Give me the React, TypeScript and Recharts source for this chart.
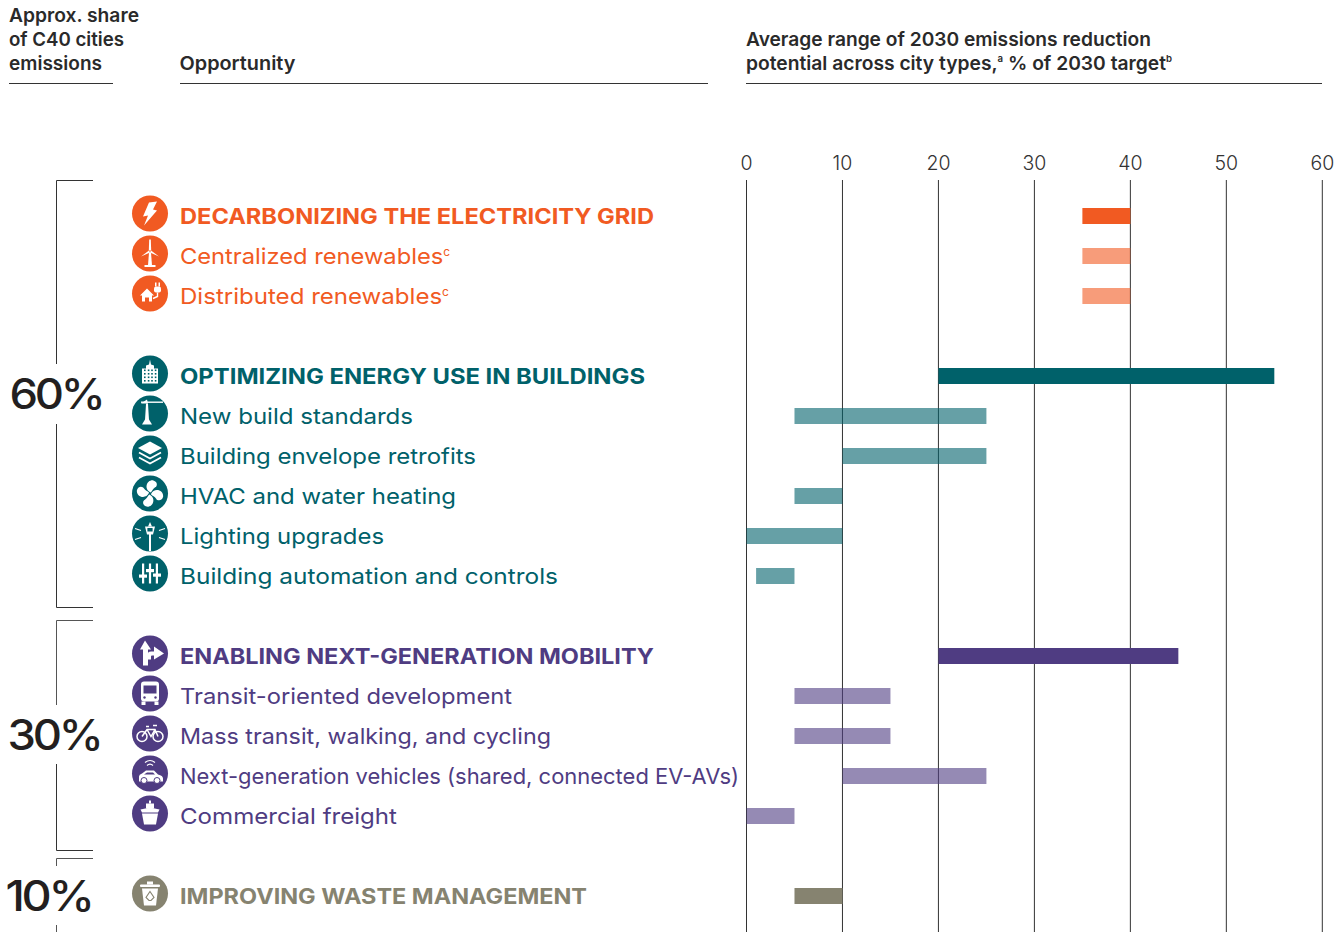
import React from 'react'
import { BarChart, Bar, Cell, CartesianGrid, XAxis, YAxis } from 'recharts'

// rows of the chart, top to bottom, "gap-*" rows are empty spacers
const rowLabels = [
  'DECARBONIZING THE ELECTRICITY GRID',
  'Centralized renewables',
  'Distributed renewables',
  'gap-1',
  'OPTIMIZING ENERGY USE IN BUILDINGS',
  'New build standards',
  'Building envelope retrofits',
  'HVAC and water heating',
  'Lighting upgrades',
  'Building automation and controls',
  'gap-2',
  'ENABLING NEXT-GENERATION MOBILITY',
  'Transit-oriented development',
  'Mass transit, walking, and cycling',
  'Next-generation vehicles (shared, connected EV-AVs)',
  'Commercial freight',
  'gap-3',
  'IMPROVING WASTE MANAGEMENT',
]
const lowValues = [35, 35, 35, null, 20, 5, 10, 5, 0, 1, null, 20, 5, 5, 10, 0, null, 5]
const highValues = [40, 40, 40, null, 55, 25, 25, 10, 10, 5, null, 45, 15, 15, 25, 5, null, 10]
const rowGroups = ['grid', 'grid', 'grid', '', 'bld', 'bld', 'bld', 'bld', 'bld', 'bld', '', 'mob', 'mob', 'mob', 'mob', 'mob', '', 'waste']
const headerRows = [0, 4, 11, 17]
const superscripts: Record<string, string> = {
  'Centralized renewables': 'c',
  'Distributed renewables': 'c',
}
const xTicks = [0, 10, 20, 30, 40, 50, 60]

const groupColors: Record<string, string> = {
  grid: '#f15a22',
  bld: '#00616a',
  mob: '#4f3c82',
  waste: '#868370',
}

// label widths as measured on the page, the source font is wider than the ones here
const labelWidths: Record<string, number> = {
  'DECARBONIZING THE ELECTRICITY GRID': 474,
  'Centralized renewables': 270,
  'Distributed renewables': 269,
  'OPTIMIZING ENERGY USE IN BUILDINGS': 465,
  'New build standards': 233,
  'Building envelope retrofits': 296,
  'HVAC and water heating': 276,
  'Lighting upgrades': 204,
  'Building automation and controls': 378,
  'ENABLING NEXT-GENERATION MOBILITY': 474,
  'Transit-oriented development': 332,
  'Mass transit, walking, and cycling': 371,
  'Next-generation vehicles (shared, connected EV-AVs)': 559,
  'Commercial freight': 217,
  'IMPROVING WASTE MANAGEMENT': 407,
}

const FONT = 'Inter, "Open Sans", sans-serif'
const INK = '#2a2a2a'

const tableData = rowLabels.map((label, i) => ({
  label,
  range: lowValues[i] === null ? null : [lowValues[i], highValues[i]],
  group: rowGroups[i],
  header: headerRows.includes(i),
}))

// white glyphs, drawn around 0,0 inside an 18px radius circle
const glyph = (fill: string): Record<string, React.ReactNode> => ({
  'DECARBONIZING THE ELECTRICITY GRID': <path d="M-1,-11 L7,-12 L3,-4 L7,-3 L-6,12 L-2,2 L-7,3 Z" fill="#fff" />,
  'Centralized renewables': (
    <g fill="#fff">
      <path d="M-0.8,-14 L0.8,-14 L1.2,-3 L-1.2,-3 Z" />
      <path d="M-9,3 L-1,-3 L0,-1 Z" />
      <path d="M9,3 L1,-3 L0,-1 Z" />
      <path d="M-1,-1 L1,-1 L2,12 L-2,12 Z" />
      <rect x={-5.5} y={11.5} width={11} height={2} />
    </g>
  ),
  'Distributed renewables': (
    <g fill="#fff">
      <path d="M-10,2 L-3,-5 L4,2 L2,2 L2,8 L-1,8 L-1,4 L-5,4 L-5,8 L-8,8 L-8,2 Z" />
      <rect x={4} y={-7} width={7} height={6} rx={2} />
      <rect x={5} y={-11} width={1.5} height={4} />
      <rect x={8.5} y={-11} width={1.5} height={4} />
      <path d="M7.5,-1 L7.5,3 L3,5" stroke="#fff" strokeWidth={1.4} fill="none" />
    </g>
  ),
  'OPTIMIZING ENERGY USE IN BUILDINGS': (
    <g>
      <path d="M-8,10 L-8,-5 L-4,-5 L-4,-8 L-1,-9 L0,-14 L1,-9 L4,-8 L4,-5 L8,-5 L8,10 Z" fill="#fff" />
      {[-4, -0.5, 3, 6.5].map((y) =>
        [-6, -2.2, 1.2, 4.8].map((x) => <rect key={`${x}${y}`} x={x} y={y} width={1.6} height={1.6} fill={fill} />),
      )}
    </g>
  ),
  'New build standards': (
    <g fill="#fff">
      <rect x={-9} y={-12} width={22} height={1.4} />
      <path d="M-9,-10 L-3,-14 L-2,-10 Z" />
      <path d="M-4,-10 L-2,-10 L-1,7 L-5,7 Z" />
      <path d="M-8,11 L-5,6 L-1,6 L2,11 Z" />
    </g>
  ),
  'Building envelope retrofits': (
    <g>
      <path d="M0,-12 L12,-5.5 L0,1 L-12,-5.5 Z" fill="#fff" />
      <path d="M-11,-1 L0,5 L11,-1" fill="none" stroke="#fff" strokeWidth={1.8} />
      <path d="M-11,4 L0,10 L11,4" fill="none" stroke="#fff" strokeWidth={1.8} />
    </g>
  ),
  'HVAC and water heating': (
    <g fill="#fff">
      {[10, 100, 190, 280].map((a) => (
        <path key={a} transform={`rotate(${a})`} d="M0.5,-1 C-7,-3 -6,-13 1,-13.5 C6,-13 6,-8 4,-7 C2,-5 2,-3 0.5,-1 Z" />
      ))}
    </g>
  ),
  'Lighting upgrades': (
    <g>
      <rect x={-1} y={0} width={2} height={17.5} fill="#fff" />
      <path d="M-5,-7 L5,-7 L4,-3 L3,1 L-3,1 L-4,-3 Z" fill="#fff" />
      <rect x={-2.6} y={-5.5} width={5.2} height={3.5} fill={fill} />
      <path d="M-2,-7 L0,-11.5 L2,-7 Z" fill="#fff" />
      <path d="M-15,-5 L-9,-3 M-15,6 L-9,4 M15,-5 L9,-3 M15,6 L9,4" stroke="#fff" strokeWidth={1.2} />
    </g>
  ),
  'Building automation and controls': (
    <g fill="#fff">
      <rect x={-8} y={-10} width={2.2} height={20} />
      <rect x={-1.1} y={-10} width={2.2} height={20} />
      <rect x={5.8} y={-10} width={2.2} height={20} />
      <rect x={-11} y={1} width={8} height={3.2} />
      <rect x={-4} y={-4.5} width={8} height={3.2} />
      <rect x={3} y={0} width={8} height={3.2} />
    </g>
  ),
  'ENABLING NEXT-GENERATION MOBILITY': (
    <g fill="#fff">
      <path d="M-5,-13 L-10,-4 L-7,-4 L-7,12 L-2,12 L-2,-4 L1,-4 Z" />
      <path d="M-2,6 L-2,0 Q-2,-2 1,-2 L4,-2 L4,-7 L14,0 L4,6 L4,2 L2,2 Q1,2 1,3 L1,6 Z" />
    </g>
  ),
  'Transit-oriented development': (
    <g>
      <rect x={-9} y={-12} width={18} height={20} rx={3} fill="#fff" />
      <rect x={-6.5} y={-8} width={13} height={8} fill={fill} />
      <rect x={-8.5} y={8} width={4} height={3.5} fill="#fff" />
      <rect x={4.5} y={8} width={4} height={3.5} fill="#fff" />
      <circle cx={-5.5} cy={4} r={1.2} fill={fill} />
      <circle cx={5.5} cy={4} r={1.2} fill={fill} />
    </g>
  ),
  'Mass transit, walking, and cycling': (
    <g fill="none" stroke="#fff" strokeWidth={1.5}>
      <circle cx={-8} cy={3} r={5} />
      <circle cx={8} cy={3} r={5} />
      <path d="M-8,3 L-3,-4 L5,-4 L8,3 M-3,-4 L1,3 L5,-4 M-4,-7 L-1,-7 M3,-8 L7,-8" />
    </g>
  ),
  'Next-generation vehicles (shared, connected EV-AVs)': (
    <g>
      <path d="M-11,8 L-11,3 Q-11,1 -8,0 L-4,-3 L4,-3 L8,1 Q13,2 13,5 L13,8 Z" fill="#fff" />
      <path d="M-3,-1 L3,-1 L5,1 L-6,1 Z" fill={fill} />
      <circle cx={-6} cy={7} r={3} fill="#fff" stroke={fill} />
      <circle cx={7} cy={7} r={3} fill="#fff" stroke={fill} />
      <path d="M-5,-11 Q0,-15 5,-11 M-3,-8 Q0,-11 3,-8" fill="none" stroke="#fff" strokeWidth={1.2} />
    </g>
  ),
  'Commercial freight': (
    <g fill="#fff">
      <rect x={-1} y={-13} width={2} height={3} />
      <path d="M-4,-10 L4,-10 L4,-5 L-4,-5 Z" />
      <path d="M-9.5,-4 L0,-6 L9.5,-4 L8,-1 L-8,-1 Z" />
      <path d="M-8,0 L8,0 L6,11 L-6,11 Z" />
    </g>
  ),
  'IMPROVING WASTE MANAGEMENT': (
    <g>
      <rect x={-10} y={-9} width={20} height={2.5} rx={1} fill="#fff" />
      <rect x={-3} y={-12} width={6} height={3} fill="#fff" />
      <path d="M-8,-5 L8,-5 L6,12 L-6,12 Z" fill="#fff" />
      <path d="M0,-2 L4,4 L1,7 L-1,7 L-4,4 Z" fill="none" stroke={fill} strokeWidth={1.1} />
    </g>
  ),
})

const RowTick = (props: any) => {
  const label: string = props.payload?.value
  const row = tableData.find((r) => r.label === label)
  if (!row || !row.group) return null
  const color = groupColors[row.group]
  return (
    <g>
      <g transform={`translate(150,${props.y - 2.5})`}>
        <circle r={18} fill={color} />
        {glyph(color)[label]}
      </g>
      <text
        x={180}
        y={props.y + 8}
        fontFamily={FONT}
        fontSize={row.header ? 21.5 : 22}
        fontWeight={row.header ? 700 : 400}
        fill={color}
        textLength={labelWidths[label]}
        lengthAdjust="spacingAndGlyphs"
      >
        {label}
        {superscripts[label] ? (
          <tspan fontSize={11} dy={-8}>
            {superscripts[label]}
          </tspan>
        ) : null}
      </text>
    </g>
  )
}

const Frame = () => {
  const head = { fontFamily: FONT, fontSize: 19, fontWeight: 600, fill: INK, lengthAdjust: 'spacingAndGlyphs' }
  const pct = { fontFamily: FONT, fontSize: 42, fontWeight: 500, letterSpacing: -3, fill: '#231f20', lengthAdjust: 'spacingAndGlyphs' }
  return (
    <svg width={1341} height={932} style={{ position: 'absolute', left: 0, top: 0 }}>
      <text {...head} x={9} y={22} textLength={130}>Approx. share</text>
      <text {...head} x={9} y={46} textLength={115}>of C40 cities</text>
      <text {...head} x={9} y={70} textLength={93}>emissions</text>
      <text {...head} x={179.5} y={70} textLength={116}>Opportunity</text>
      <text {...head} x={746} y={46} textLength={405}>Average range of 2030 emissions reduction</text>
      <text {...head} x={746} y={70} textLength={426}>
        potential across city types,<tspan fontSize={9.5} dy={-8}>a</tspan>
        <tspan dy={8}> % of 2030 target</tspan>
        <tspan fontSize={9.5} dy={-8}>b</tspan>
      </text>
      <g stroke="#333" strokeWidth={1} fill="none">
        <path d="M9,83.5 H113 M180,83.5 H708 M746,83.5 H1322" />
        <path d="M93,180.5 H56.5 V364 M56.5,424 V607.5 H93" />
        <path d="M56.5,705 V620.5 H93" stroke="#555" />
        <path d="M56.5,764 V850.5 H93" />
        <path d="M93,858.5 H56.5 V866 M56.5,925 V932" stroke="#555" />
      </g>
      <text {...pct} x={9.5} y={408.5} textLength={93}>60%</text>
      <text {...pct} x={7.5} y={749.5} textLength={93}>30%</text>
      <text {...pct} x={5.5} y={911} textLength={86}>10%</text>
    </svg>
  )
}

export default function App() {
  return (
    <div style={{ position: 'absolute', left: 0, top: 0, width: 1341, height: 932, overflow: 'hidden', background: '#fff' }}>
      <Frame />
      <div style={{ position: 'absolute', left: 0, top: 0 }}>
        <BarChart
          layout="vertical"
          width={1341}
          height={932}
          data={tableData}
          margin={{ top: 150, right: 18.7, bottom: 0, left: 0 }}
          barSize={16}
        >
          <CartesianGrid horizontal={false} vertical stroke="#333" strokeWidth={1} />
          <XAxis
            type="number"
            orientation="top"
            domain={[0, 60]}
            ticks={xTicks}
            interval={0}
            height={30}
            axisLine={false}
            tickLine={false}
            tickSize={0}
            tickMargin={10}
            tick={{ fontFamily: FONT, fontSize: 19.5, fontWeight: 300, fill: '#333' }}
          />
          <YAxis
            type="category"
            dataKey="label"
            width={746.5}
            interval={0}
            axisLine={false}
            tickLine={false}
            padding={{ top: 16, bottom: 16 }}
            tick={<RowTick />}
          />
          <Bar dataKey="range" isAnimationActive={false}>
            {tableData.map((row) => (
              <Cell
                key={row.label}
                fill={groupColors[row.group] ?? '#000'}
                fillOpacity={row.header ? 1 : 0.6}
              />
            ))}
          </Bar>
        </BarChart>
      </div>
    </div>
  )
}
